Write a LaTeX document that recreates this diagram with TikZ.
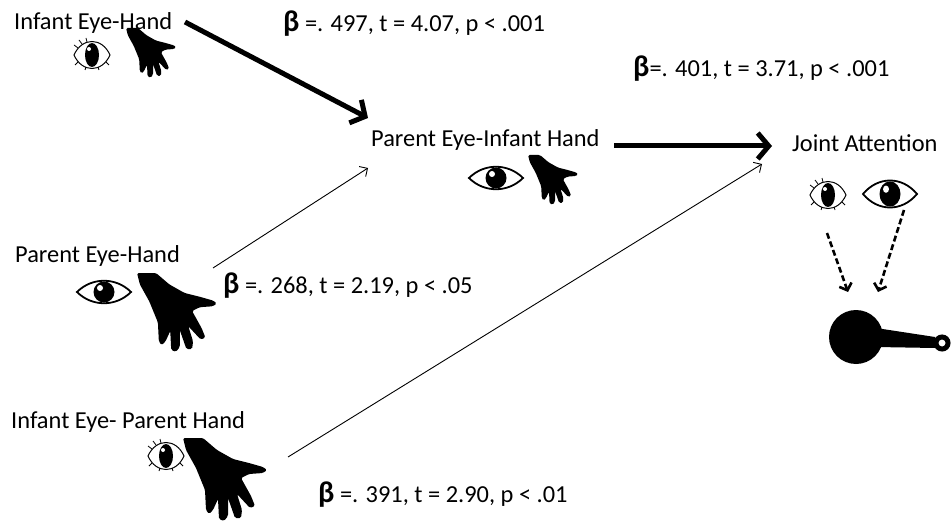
\documentclass[tikz,border=0pt]{standalone}
\usepackage{fontspec}
\setmainfont{Carlito}
\usetikzlibrary{arrows.meta}
\tikzset{
	x=1pt, y=-1pt,
	txt/.style={font=\fontsize{24.4}{28}\selectfont, inner sep=0pt, anchor=base west},
	strongpath/.style={-{Straight Barb[length=11pt, width=26pt]}, line width=5pt},
	weakpath/.style={-{Straight Barb[length=6pt, width=12pt]}, line width=0.9pt},
	gaze/.style={-{Straight Barb[length=6pt, width=13pt]}, line width=2.6pt, dash pattern=on 6pt off 3pt},
	adulteye/.pic={
		\draw[line width=1.8pt, fill=white] (-27,0) .. controls (-12,-15) and (12,-15) .. (27,0) .. controls (12,15) and (-12,15) .. cycle;
		\fill (0,0) circle (10.5);
		\fill[white] (-4,-4) circle (3);
	},
	babyeye/.pic={
		\draw[line width=1pt, fill=white] (-18,0) .. controls (-10,-18) and (10,-18) .. (18,0) .. controls (10,18) and (-10,18) .. cycle;
		\fill (0,0) ellipse (7 and 12);
		\fill[white] (-3,-6) circle (2);
		\draw[line width=0.8pt] (-14,-7) -- (-18,-10) (-10,-11) -- (-13,-15) (-5,-13) -- (-6,-17) (-14,7) -- (-17,10) (-6,12) -- (-7,15) (6,12) -- (7,15) (14,7) -- (17,10);
	},
	hand/.pic={
		\fill[rounded corners=1.5pt] (0,0) -- (20,0) -- (34,12) -- (50,21) -- (66,25) -- (80,29) -- (84,32) -- (80,35) -- (66,36) -- (58,40) -- (68,58) -- (72,68) -- (67,70) -- (54,56) -- (59,72) -- (58,80) -- (52,80) -- (45,60) -- (45,78) -- (41,83) -- (36,81) -- (35,61) -- (30,72) -- (26,76) -- (23,72) -- (22,52) -- (13,30) -- (3,12) -- cycle;
	}
}
\begin{document}
\begin{tikzpicture}
	\fill[white] (0,0) rectangle (952,521);
	\useasboundingbox (0,0) rectangle (952,521);

	%sources
	\node[txt] (ieh) at (14,30) {Infant Eye-Hand};
	\pic at (92,55) {babyeye};
	\pic[scale=0.6] at (126,28) {hand};

	\node[txt] (peh) at (15,262) {Parent Eye-Hand};
	\pic at (104,292) {adulteye};
	\pic[scale=0.95] at (137,273) {hand};

	\node[txt] (ieph) at (11,428) {Infant Eye- Parent Hand};
	\pic at (166,456) {babyeye};
	\pic at (183,438) {hand};

	%mediator
	\node[txt] (peih) at (371,147) {Parent Eye-Infant Hand};
	\pic at (496,178) {adulteye};
	\pic[scale=0.6] at (528,155) {hand};

	%outcome
	\node[txt] (ja) at (792,152) {Joint Attention};
	\pic at (828,195) {babyeye};
	\pic[yscale=1.2] at (890,194) {adulteye};
	\node[circle, fill, inner sep=0pt, minimum size=54pt] (ball) at (856,337) {};
	\fill (876,328) -- (935,337) -- (935,348) -- (876,347) -- cycle;
	\node[circle, draw, line width=5pt, inner sep=0pt, minimum size=12pt] (ring) at (942,343) {};

	%betas
	\node[txt] (b1) at (283,32) {{\fontsize{30}{30}\selectfont\bfseries β} =. 497, t = 4.07, p < .001};
	\node[txt] (b4) at (633,77) {{\fontsize{30}{30}\selectfont\bfseries β}=. 401, t = 3.71, p < .001};
	\node[txt] (b2) at (223,293) {{\fontsize{30}{30}\selectfont\bfseries β} =. 268, t = 2.19, p < .05};
	\node[txt] (b3) at (318,502) {{\fontsize{30}{30}\selectfont\bfseries β} =. 391, t = 2.90, p < .01};

	%connector ends
	\coordinate (ieh-out) at (185,22);
	\coordinate (peih-in1) at (368,118);
	\coordinate (peh-out) at (213,268);
	\coordinate (peih-in2) at (368,168);
	\coordinate (ieph-out) at (288,457);
	\coordinate (ja-in2) at (762,164);
	\coordinate (peih-out) at (614,146);
	\coordinate (ja-in1) at (772,146);
	\coordinate (g1s) at (827,233);
	\coordinate (g1e) at (848,292);
	\coordinate (g2s) at (904,210);
	\coordinate (g2e) at (878,292);

	\draw[strongpath] (ieh-out) -- (peih-in1);
	\draw[strongpath] (peih-out) -- (ja-in1);
	\draw[weakpath] (peh-out) -- (peih-in2);
	\draw[weakpath] (ieph-out) -- (ja-in2);
	\draw[gaze] (g1s) -- (g1e);
	\draw[gaze] (g2s) -- (g2e);
\end{tikzpicture}
\end{document}
